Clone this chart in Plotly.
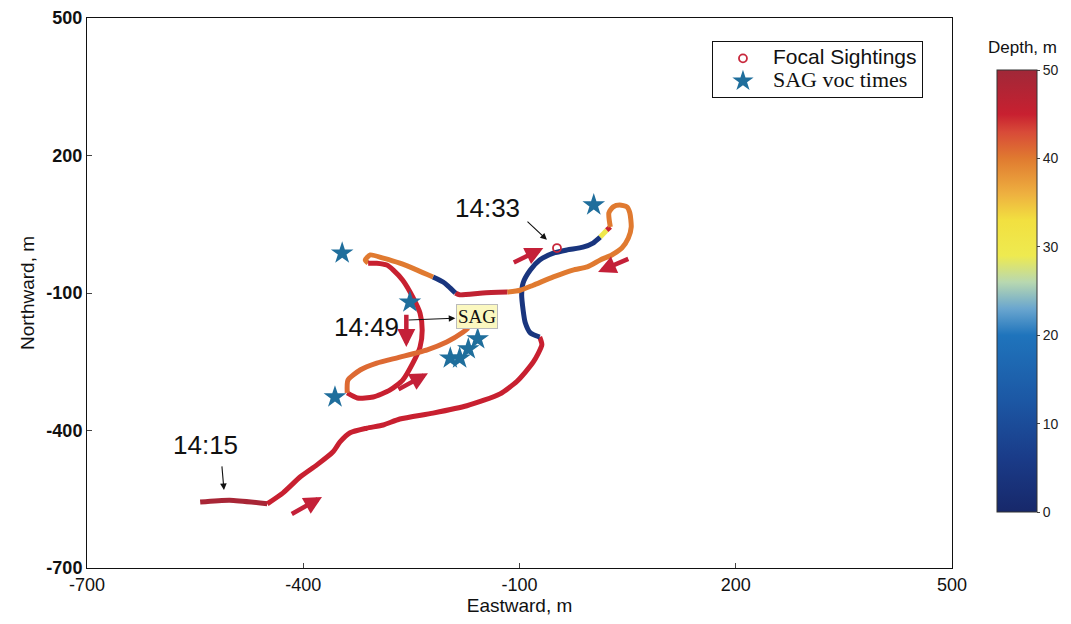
import plotly.graph_objects as go
from plotly.colors import sample_colorscale

# ---- data (metres east / north, depth in m) ----
track_x = [-543, -502, -450, -428, -404, -381, -359, -349, -335, -312, -289, -266, -220, -173, -127, -103, -81, -69,
           -72, -85, -92, -95, -97, -95, -85, -72, -53, -34, -12, 2,
           12, 21,
           26, 24, 30, 39, 49, 53, 55, 51, 42, 28, 12, -6, -26, -53, -81, -99,
           -117, -151, -183,
           -189, -199, -206,
           -220, -242, -266, -289, -307, -314,
           -310, -298, -284, -275, -262, -248, -238, -235, -238, -248, -262, -280, -303, -325,
           -339, -338, -321, -298, -266, -228, -201, -178, -171]
track_y = [-556, -552, -560, -536, -501, -475, -447, -425, -405, -395, -388, -375, -362, -346, -320, -292, -251, -213,
           -196, -187, -165, -137, -104, -78, -50, -28, -13, -6, 0, 9,
           22, 37,
           44, 75, 88, 92, 88, 75, 44, 20, -2, -17, -28, -43, -50, -65, -83, -94,
           -98, -100, -104,
           -100, -85, -76,
           -65, -50, -35, -24, -17, -28,
           -35, -35, -39, -50, -72, -109, -144, -181, -218, -253, -290, -312, -327, -329,
           -318, -290, -268, -253, -240, -224, -207, -185, -176]
track_depth = [49, 49, 45, 45, 45, 45, 45, 45, 45, 45, 45, 45, 45, 45, 45, 45, 45, 45,
               4, 4, 4, 4, 4, 4, 4, 4, 4, 4, 4, 4,
               30, 45,
               40, 40, 40, 40, 40, 40, 40, 40, 40, 40, 40, 40, 40, 40, 40, 40,
               46, 46, 46,
               4, 4, 4,
               40, 40, 40, 40, 40, 40,
               45, 45, 45, 45, 45, 45, 45, 45, 45, 45, 45, 45, 45, 45,
               41, 41, 41, 41, 41, 41, 41, 41, 41]

sag_x = [-346, -252, -356, 3, -196, -183, -171, -158]
sag_y = [-13, -120, -327, 92, -242, -242, -222, -200]

focal_x = [-48]
focal_y = [-2]

# time labels with arrow tail / head
time_labels = ["14:15", "14:33", "14:49"]
time_text_x = [-536, -145, -312]
time_text_y = [-432, 85, -174]
time_tail_x = [-513, -91, -256]
time_tail_y = [-475, 59, -159]
time_head_x = [-510, -62, -189]
time_head_y = [-530, 16, -155]

# direction arrows
dir_tail_x = [-418, -110, 53, -257, -270]
dir_tail_y = [-584, -35, -24, -144, -312]
dir_head_x = [-374, -67, 9, -257, -227]
dir_head_y = [-545, -2, -54, -218, -275]

ticks = [-700, -400, -100, 200, 500]
tick_text = ["-700", "-400", "-100", "200", "500"]
depth_ticks = [0, 10, 20, 30, 40, 50]

colorscale = [
    [0.0, '#17286a'], [0.12, '#1a3b88'], [0.25, '#1c57a4'], [0.4, '#1f74bc'],
    [0.46, '#6aa6cf'], [0.52, '#b8d8b0'], [0.58, '#eeea50'], [0.66, '#f2e040'],
    [0.72, '#eeb040'], [0.8, '#e07a30'], [0.86, '#d84a38'], [0.9, '#c82030'],
    [1.0, '#a02838']]

SANS = 'Liberation Sans, Arial'
SERIF = 'Liberation Serif, Times New Roman'

fig = go.Figure()

# track split into constant-depth pieces
n = len(track_x)
i = 0
while i < n - 1:
    d = track_depth[i]
    j = i
    while j + 1 < n - 1 and track_depth[j + 1] == d:
        j += 1
    col = sample_colorscale(colorscale, [d / 50])[0]
    fig.add_trace(go.Scatter(x=track_x[i:j + 2], y=track_y[i:j + 2], mode='lines',
                             line=dict(color=col, width=5, shape='spline', smoothing=0.6),
                             showlegend=False, hoverinfo='skip'))
    i = j + 1

# colorbar carrier
fig.add_trace(go.Scatter(
    x=track_x, y=track_y, mode='markers', showlegend=False, hoverinfo='skip',
    marker=dict(size=1, opacity=0, color=track_depth, cmin=0, cmax=50,
                colorscale=colorscale, showscale=True,
                colorbar=dict(x=1.052, xanchor='left', xpad=0, ypad=0,
                              y=0.5036, yanchor='middle', len=0.804, lenmode='fraction',
                              thickness=40, outlinewidth=1, outlinecolor='#333',
                              tickvals=depth_ticks, ticks='outside', ticklen=3,
                              tickfont=dict(family=SANS, size=14, color='#222')))))

fig.add_trace(go.Scatter(x=focal_x, y=focal_y, mode='markers',
                         name='<span style="font-size:21px">Focal Sightings</span>',
                         marker=dict(symbol='circle-open', size=8, color='#c8283c',
                                     line=dict(width=1.8, color='#c8283c'))))
fig.add_trace(go.Scatter(x=sag_x, y=sag_y, mode='markers',
                         name='<span style="font-family:Liberation Serif, Times New Roman;font-size:22px">SAG voc times</span>',
                         marker=dict(symbol='star', size=17, color='#1f6e9c', line=dict(width=0))))

ann = []
for t, tx, ty, ax, ay, hx, hy in zip(time_labels, time_text_x, time_text_y,
                                      time_tail_x, time_tail_y, time_head_x, time_head_y):
    ann.append(dict(x=tx, y=ty, xref='x', yref='y', text=t, showarrow=False,
                    font=dict(family=SANS, size=26, color='#111')))
    ann.append(dict(x=hx, y=hy, ax=ax, ay=ay, xref='x', yref='y', axref='x', ayref='y',
                    text='', showarrow=True, arrowhead=2, arrowsize=1.2, arrowwidth=1.1,
                    arrowcolor='#111'))
for ax, ay, hx, hy in zip(dir_tail_x, dir_tail_y, dir_head_x, dir_head_y):
    ann.append(dict(x=hx, y=hy, ax=ax, ay=ay, xref='x', yref='y', axref='x', ayref='y',
                    text='', showarrow=True, arrowhead=2, arrowsize=0.8, arrowwidth=4.5,
                    arrowcolor='#c42038'))
ann.append(dict(x=-159, y=-152, xref='x', yref='y', text='SAG', showarrow=False,
                bgcolor='#fbf8c0', bordercolor='#bbb', borderwidth=1, borderpad=1,
                font=dict(family=SERIF, size=19, color='#111')))
ann.append(dict(x=1.081, y=0.947, xref='paper', yref='paper', text='Depth, m',
                showarrow=False, xanchor='center', yanchor='middle',
                font=dict(family=SANS, size=17, color='#111')))

axis_common = dict(range=[-700, 500], tickvals=ticks, ticktext=tick_text,
                   ticks='inside', ticklen=5,
                   showline=True, linecolor='#111', linewidth=1, mirror=True,
                   showgrid=False, zeroline=False)

# page body has an 8px margin: figure is sized so the plot lands at the reference spot
fig.update_layout(
    width=1063, height=616,
    margin=dict(l=79, r=119, t=10, b=56, autoexpand=False),
    paper_bgcolor='white', plot_bgcolor='white',
    xaxis=dict(**axis_common,
               tickfont=dict(family=SANS, size=18, color='#111'),
               title=dict(text='Eastward, m', standoff=4,
                          font=dict(family=SANS, size=19, color='#111'))),
    yaxis=dict(**axis_common,
               tickfont=dict(family=SANS, size=18, color='#111', weight='bold'),
               title=dict(text='Northward, m', standoff=6,
                          font=dict(family=SANS, size=19, color='#111'))),
    legend=dict(x=0.7225, y=0.958, xanchor='left', yanchor='top',
                bordercolor='#111', borderwidth=1, bgcolor='white',
                font=dict(family=SANS, size=15, color='#111'),
                itemwidth=50, tracegroupgap=0),
    annotations=ann,
)

fig.write_html("out.html")
